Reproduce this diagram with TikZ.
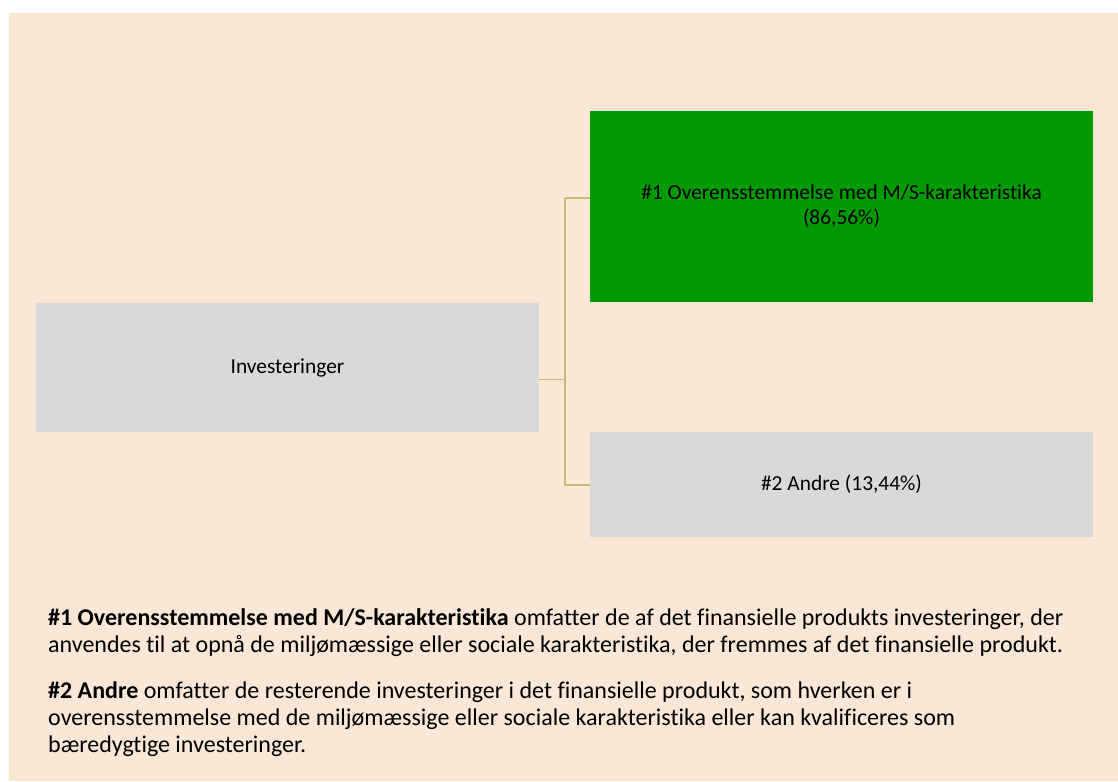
\documentclass[tikz,border=0pt]{standalone}
\usepackage{fontspec}
\setmainfont{Carlito}[Ligatures={NoCommon}]
\definecolor{peach}{HTML}{FAE7D5}
\definecolor{boxgreen}{HTML}{009900}
\definecolor{boxgray}{HTML}{D9D9D9}
\definecolor{khaki}{HTML}{C8BB6B}
\begin{document}
\begin{tikzpicture}[x=1pt,y=1pt,
  box/.style={draw=none, inner sep=0pt, align=center, font=\fontsize{21.4}{25}\selectfont},
  conn/.style={draw=khaki, line width=1.6pt},
  para/.style={anchor=base west, inner sep=0pt, font=\fontsize{24}{27}\selectfont}]
\useasboundingbox (0,0) rectangle (1118,-781);
\fill[peach] (9,-13) rectangle (1118,-781);
% boxes
\node[box, fill=boxgray, minimum width=503pt, minimum height=129pt] (root) at (287.5,-367.5) {Investeringer};
\node[box, fill=boxgreen, minimum width=503pt, minimum height=191pt] (g) at (841.5,-206.5) {\#1 Overensstemmelse med M/S-karakteristika\\(86,56\%)};
\node[box, fill=boxgray, minimum width=503pt, minimum height=105pt] (o) at (841.5,-484.5) {\#2 Andre (13,44\%)};
% connectors
\coordinate (j) at (565,-379);
\draw[conn, line width=1pt] ([yshift=-11.5pt]root.east) -- (j);
\draw[conn] (j) -- (j |- g.west);
\draw[conn, line width=1.1pt] (j |- g.west) ++(0,8.5) coordinate (jt) -- ([yshift=8.5pt]g.west);
\draw[conn] (jt) -- (j);
\draw[conn] (j) |- ([yshift=-0.5pt]o.west);
% legend text
\node[para] (l1) at (48,-625) {\textbf{\#1 Overensstemmelse med M/S-karakteristika} omfatter de af det finansielle produkts investeringer, der};
\node[para] (l2) at (48,-652) {anvendes til at opnå de miljømæssige eller sociale karakteristika, der fremmes af det finansielle produkt.};
\node[para] (l3) at (48,-698) {\textbf{\#2 Andre} omfatter de resterende investeringer i det finansielle produkt, som hverken er i};
\node[para] (l4) at (48,-725) {overensstemmelse med de miljømæssige eller sociale karakteristika eller kan kvalificeres som};
\node[para] (l5) at (48,-752) {bæredygtige investeringer.};
\end{tikzpicture}
\end{document}
